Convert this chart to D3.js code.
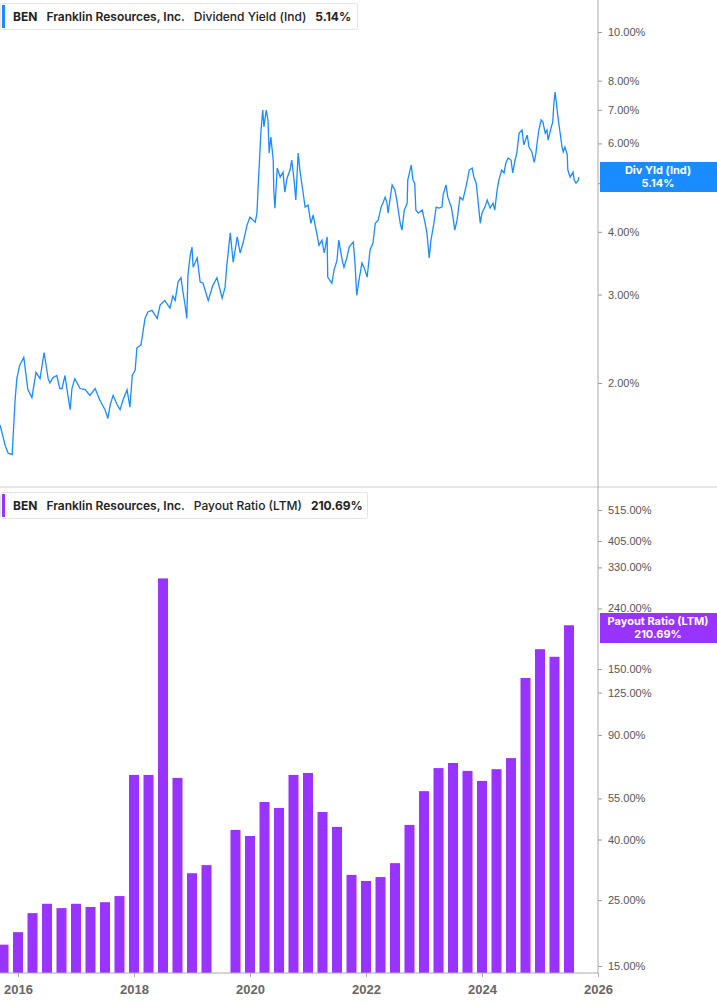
<!DOCTYPE html>
<html lang="en">
<head>
    <meta charset="utf-8">
    <title>BEN Dividend Yield and Payout Ratio</title>
    <script src="https://d3js.org/d3.v7.min.js"></script>
    <style>
        body { margin: 0; background: #fff; font-family: Inter, "Noto Sans", sans-serif; }
        .tick text { fill: #555; font-size: 11px; }
        .xaxis .tick text { font-size: 13px; font-weight: 600; fill: #666; }
    </style>
</head>
<body>
<svg id="chart" width="717" height="1005"></svg>
<script>
    // Dividend yield (%), decimal year -> value
    const yieldDates = [2015.69,2015.78,2015.83,2015.90,2015.95,2015.98,2016.03,2016.10,2016.17,2016.24,2016.31,2016.38,2016.45,2016.52,2016.55,2016.60,2016.67,2016.72,2016.76,2016.81,2016.86,2016.90,2016.93,2016.98,2017.07,2017.16,2017.24,2017.33,2017.41,2017.50,2017.55,2017.59,2017.64,2017.71,2017.76,2017.81,2017.88,2017.93,2017.97,2018.02,2018.05,2018.12,2018.19,2018.24,2018.31,2018.40,2018.45,2018.53,2018.62,2018.67,2018.71,2018.76,2018.81,2018.84,2018.88,2018.91,2018.93,2018.97,2019.00,
        2019.02,2019.09,2019.14,2019.19,2019.28,2019.36,2019.43,2019.52,2019.57,2019.60,2019.66,2019.71,2019.78,2019.83,2019.88,2019.95,2020.00,2020.09,2020.12,2020.14,2020.19,2020.22,2020.24,2020.28,2020.31,2020.33,2020.36,2020.40,2020.41,2020.43,2020.47,2020.52,2020.57,2020.60,2020.64,2020.69,2020.72,2020.76,2020.79,2020.83,2020.86,2020.91,2020.95,2021.00,2021.05,2021.09,2021.14,2021.19,2021.24,2021.28,2021.33,2021.34,2021.41,2021.45,2021.50,2021.53,2021.59,2021.62,2021.67,2021.71,2021.78,2021.81,2021.84,2021.88,2021.93,2021.97,2022.02,2022.07,2022.12,2022.16,2022.21,2022.26,2022.29,2022.33,2022.36,
        2022.38,2022.45,2022.50,2022.53,2022.59,2022.62,2022.66,2022.71,2022.72,2022.78,2022.81,2022.84,2022.86,2022.90,2022.97,2023.02,2023.05,2023.09,2023.12,2023.16,2023.21,2023.26,2023.31,2023.33,2023.38,2023.41,2023.47,2023.50,2023.53,2023.57,2023.62,2023.67,2023.71,2023.74,2023.78,2023.83,2023.86,2023.90,2023.93,2023.97,2024.00,2024.05,2024.09,2024.14,2024.19,2024.22,2024.26,2024.29,2024.34,2024.38,2024.41,2024.45,2024.50,2024.53,2024.57,2024.60,2024.64,2024.69,2024.72,2024.78,2024.81,2024.86,2024.90,2024.93,2024.95,2024.98,2025.02,2025.05,2025.09,2025.12,2025.14,2025.19,2025.22,2025.24,2025.26,2025.29,2025.31,2025.34,2025.38,2025.40,2025.43,2025.47,2025.48,2025.52,2025.57,2025.59,2025.62,2025.66,2025.67];
    const yieldValues = [1.65,1.50,1.45,1.44,1.85,2.04,2.17,2.25,1.94,1.87,2.10,2.04,2.30,2.04,2.00,2.05,2.07,1.95,1.95,2.07,1.89,1.77,1.95,2.04,1.95,1.94,1.89,1.95,1.85,1.77,1.70,1.81,1.89,1.81,1.77,1.85,1.94,1.79,2.07,2.12,2.35,2.38,2.69,2.77,2.79,2.69,2.86,2.92,2.82,2.98,2.92,3.18,3.24,3.06,2.86,2.69,3.28,3.60,3.73,
        3.40,3.55,3.18,3.16,2.92,3.13,3.24,2.95,3.10,3.43,3.98,3.48,3.91,3.63,3.80,4.13,4.28,4.18,4.36,4.91,6.38,6.99,6.47,6.99,6.68,5.74,6.18,5.56,4.84,4.46,5.36,5.14,5.26,4.80,5.12,5.31,5.56,5.07,4.63,5.74,5.31,4.84,4.48,4.52,4.16,4.32,4.03,3.76,3.85,3.63,3.91,3.25,3.16,3.36,3.51,3.85,3.51,3.40,3.55,3.73,3.82,3.47,2.99,3.21,3.47,3.39,3.25,3.68,3.80,4.16,4.22,4.48,4.56,4.69,4.58,
        4.36,4.96,4.84,4.63,4.16,4.03,4.42,4.56,5.07,5.43,5.07,5.00,4.42,4.36,4.42,4.16,3.98,3.55,3.85,4.09,4.48,4.46,4.48,4.74,4.96,4.69,4.48,4.28,4.03,4.22,4.69,4.63,4.84,5.02,5.31,5.36,5.14,5.00,4.63,4.16,4.36,4.48,4.63,4.46,4.56,4.42,4.84,5.07,5.31,5.24,5.48,5.61,5.56,5.24,5.56,5.74,6.29,6.38,5.96,6.23,5.90,5.77,5.50,5.74,6.01,6.38,6.68,6.62,6.29,6.38,6.09,6.44,6.62,7.22,7.59,7.09,6.77,6.38,5.90,5.77,5.90,5.69,5.31,5.14,5.26,5.07,5.00,5.07,5.14];

    // Payout ratio (LTM, %) by quarter; null = no value reported
    const payoutQuarters = [2015.75,2016.0,2016.25,2016.5,2016.75,2017.0,2017.25,2017.5,2017.75,2018.0,2018.25,2018.5,2018.75,2019.0,2019.25,2019.5,2019.75,2020.0,2020.25,2020.5,2020.75,2021.0,2021.25,2021.5,2021.75,2022.0,2022.25,2022.5,2022.75,2023.0,2023.25,2023.5,2023.75,2024.0,2024.25,2024.5,2024.75,2025.0,2025.25,2025.5];
    const payoutValues = [17.7,19.5,22.6,24.3,23.5,24.3,23.7,24.6,25.8,66.0,66.0,303,64.5,30.8,32.8,null,43.1,41.1,53.5,51.1,66.0,67.0,49.5,44.1,30.4,29.0,29.9,33.3,44.8,58.2,69.6,72.4,68.1,63.0,69.0,75.2,140,175,165,210.69];

    const yieldTicks = [2, 3, 4, 5, 6, 7, 8, 10];
    const payoutTicks = [15, 25, 40, 55, 90, 125, 150, 240, 330, 405, 515];
    const yearTicks = [2016, 2018, 2020, 2022, 2024, 2026];

    const blue = "#1a8cff", purple = "#9933ff";
    const svg = d3.select("#chart");
    const plotRight = 598;

    const x = d3.scaleLinear().domain([2016, 2026]).range([18, 598]);
    const yTop = d3.scaleLog().domain([2, 10]).range([383, 32]);
    const yBot = d3.scaleLog().domain([15, 515]).range([966, 510]);

    // panel separator
    svg.append("line").attr("x1", 0).attr("x2", 717).attr("y1", 487).attr("y2", 487).attr("stroke", "#ccc");

    // top panel: yield line
    svg.append("g").attr("transform", `translate(${plotRight},0)`)
        .call(d3.axisRight(yTop).tickValues(yieldTicks).tickSize(4).tickFormat(d => d.toFixed(2) + "%"))
        .call(g => g.select(".domain").remove())
        .call(g => g.selectAll(".tick line").attr("stroke", "#999"))
        .call(g => g.selectAll(".tick text").attr("x", 10));

    const pts = yieldDates.map((d, i) => [d, yieldValues[i]]);
    svg.append("path").datum(pts)
        .attr("fill", "none").attr("stroke", blue).attr("stroke-width", 1.3)
        .attr("d", d3.line().x(d => x(d[0])).y(d => yTop(d[1])));

    // bottom panel: payout bars
    svg.append("g").attr("transform", `translate(${plotRight},0)`)
        .call(d3.axisRight(yBot).tickValues(payoutTicks).tickSize(4).tickFormat(d => d.toFixed(2) + "%"))
        .call(g => g.select(".domain").remove())
        .call(g => g.selectAll(".tick line").attr("stroke", "#999"))
        .call(g => g.selectAll(".tick text").attr("x", 10));

    const bars = payoutQuarters.map((q, i) => ({ q, v: payoutValues[i] })).filter(d => d.v != null);
    svg.append("g").selectAll("rect").data(bars).join("rect")
        .attr("x", d => x(d.q) - 5).attr("width", 10)
        .attr("y", d => yBot(d.v)).attr("height", d => 973 - yBot(d.v))
        .attr("fill", purple);

    // vertical right axis line
    svg.append("line").attr("x1", plotRight).attr("x2", plotRight).attr("y1", 0).attr("y2", 973).attr("stroke", "#aaa");

    // x axis
    svg.append("g").attr("class", "xaxis").attr("transform", "translate(0,973)")
        .call(d3.axisBottom(x).tickValues(yearTicks).tickSize(4).tickFormat(d3.format("d")))
        .call(g => g.select(".domain").attr("d", `M0,0H${plotRight}`).attr("stroke", "#aaa"))
        .call(g => g.selectAll(".tick line").attr("stroke", "#aaa"))
        .call(g => g.selectAll(".tick text").attr("dy", "1.1em"));

    // legend boxes
    function legend(y, color, metric, value, w) {
        const g = svg.append("g").attr("transform", `translate(0,${y})`);
        g.append("rect").attr("x", 0.5).attr("y", 0.5).attr("width", w).attr("height", 26)
            .attr("fill", "#fff").attr("stroke", "#e4e4e4").attr("rx", 2);
        g.append("rect").attr("x", 2).attr("y", 2).attr("width", 3).attr("height", 23).attr("fill", color);
        const t = g.append("text").attr("x", 13).attr("y", 18).attr("font-size", 12).attr("fill", "#222");
        t.append("tspan").attr("font-weight", 700).text("BEN");
        t.append("tspan").attr("dx", 9).attr("font-weight", 600).text("Franklin Resources, Inc.");
        t.append("tspan").attr("dx", 9).attr("font-weight", 500).text(metric);
        t.append("tspan").attr("dx", 9).attr("font-weight", 700).text(value);
    }
    legend(3, blue, "Dividend Yield (Ind)", "5.14%", 357);
    legend(492, purple, "Payout Ratio (LTM)", "210.69%", 367);

    // last-value tags on the right axis
    function tag(yc, color, l1, l2) {
        svg.append("rect").attr("x", 600).attr("y", yc - 15).attr("width", 117).attr("height", 30).attr("fill", color);
        svg.append("text").attr("x", 658).attr("y", yc - 3).attr("text-anchor", "middle")
            .attr("font-size", 11).attr("font-weight", 700).attr("fill", "#fff").text(l1);
        svg.append("text").attr("x", 658).attr("y", yc + 10).attr("text-anchor", "middle")
            .attr("font-size", 11).attr("font-weight", 700).attr("fill", "#fff").text(l2);
    }
    tag(177, blue, "Div Yld (Ind)", "5.14%");
    tag(628, purple, "Payout Ratio (LTM)", "210.69%");
</script>
</body>
</html>
